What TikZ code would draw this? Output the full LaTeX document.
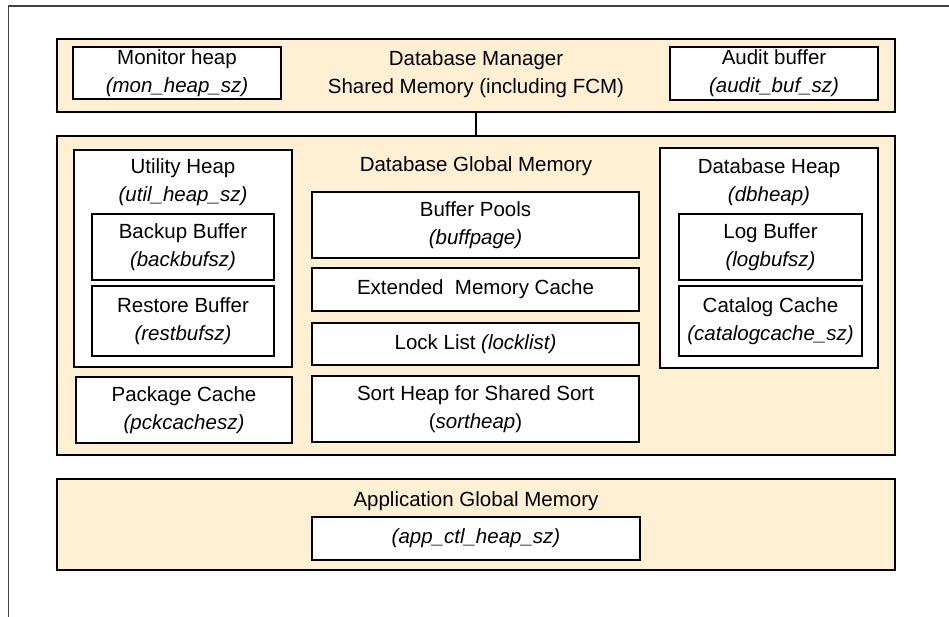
\documentclass[tikz,border=0pt]{standalone}
\usepackage{fontspec}
\setmainfont{Liberation Sans}
\definecolor{shared}{RGB}{255,240,212}
\begin{document}
\begin{tikzpicture}[x=1pt,y=-1pt,
  every node/.style={font=\fontsize{20.5}{28}\selectfont, align=center, inner sep=0pt, outer sep=0pt},
  area/.style={draw=black, line width=2pt, fill=shared},
  membox/.style={draw=black, line width=2pt, fill=white},
  link/.style={draw=black, line width=2pt}]
\useasboundingbox (0,0) rectangle (949,617);
% page frame (top and left edges)
\draw[line width=1.2pt, draw=black!75] (949,6) -- (8.5,6) -- (8.5,617);

% database manager shared memory
\node[area, minimum width=838pt, minimum height=73pt] (dbm) at (476,75.5) {};
\node[membox, minimum width=208pt, minimum height=52pt] (mon) at (177,73) {Monitor heap\\\textit{(mon\_heap\_sz)}};
\node[membox, minimum width=208pt, minimum height=53pt] (audit) at (774,73.5) {Audit buffer\\\textit{(audit\_buf\_sz)}};
\node (dbmtitle) at (476,74.5) {Database Manager\\Shared Memory (including FCM)};

% database global memory
\node[area, minimum width=838pt, minimum height=319pt] (dbg) at (476,295.5) {};
\draw[link] (dbm.south) -- (dbg.north);
\node (dbgtitle) at (476,166) {Database Global Memory};

\node[membox, minimum width=218pt, minimum height=217pt] (util) at (183,258.5) {};
\node (utiltitle) at (183,182.5) {Utility Heap\\\textit{(util\_heap\_sz)}};
\node[membox, minimum width=182pt, minimum height=66pt] (backup) at (183,247) {Backup Buffer\\\textit{(backbufsz)}};
\node[membox, minimum width=182pt, minimum height=70pt] (restore) at (183,321) {Restore Buffer\\\textit{(restbufsz)}};
\node[membox, minimum width=216pt, minimum height=66pt] (pkg) at (184,410) {Package Cache\\\textit{(pckcachesz)}};

\node[membox, minimum width=327pt, minimum height=66pt] (pools) at (475.5,225) {Buffer Pools\\\textit{(buffpage)}};
\node[membox, minimum width=327pt, minimum height=43pt] (ext) at (475.5,289.5) {Extended\ \ Memory Cache};
\node[membox, minimum width=327pt, minimum height=42pt] (lock) at (475.5,344) {Lock List \textit{(locklist)}};
\node[membox, minimum width=327pt, minimum height=66pt] (sort) at (475.5,409) {Sort Heap for Shared Sort\\(\textit{sortheap})};

\node[membox, minimum width=218pt, minimum height=220pt] (dbheap) at (769,258) {};
\node (dbheaptitle) at (769,182) {Database Heap\\\textit{(dbheap)}};
\node[membox, minimum width=183pt, minimum height=66pt] (logbuf) at (770.5,247) {Log Buffer\\\textit{(logbufsz)}};
\node[membox, minimum width=183pt, minimum height=70pt] (catalog) at (770.5,321) {Catalog Cache\\\textit{(catalogcache\_sz)}};

% application global memory
\node[area, minimum width=838pt, minimum height=91pt] (agm) at (476,524.5) {};
\node (agmtitle) at (476,501) {Application Global Memory};
\node[membox, minimum width=328pt, minimum height=43pt] (app) at (476,538.5) {\textit{(app\_ctl\_heap\_sz)}};
\end{tikzpicture}
\end{document}
